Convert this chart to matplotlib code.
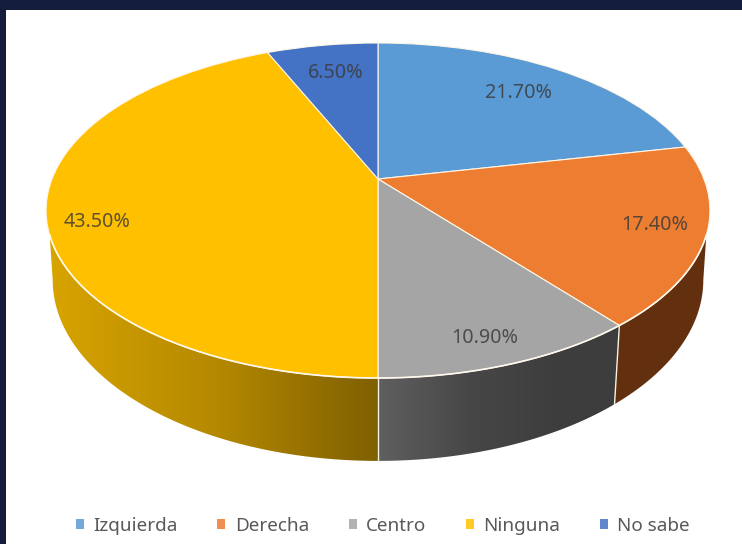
import numpy as np
import matplotlib
matplotlib.use("Agg")
import matplotlib.pyplot as plt
from matplotlib.transforms import Transform
from matplotlib.colors import LinearSegmentedColormap
from matplotlib.patches import Patch, Polygon

categories = ["Izquierda", "Derecha", "Centro", "Ninguna", "No sabe"]
values = [21.7, 17.4, 10.9, 43.5, 6.5]
label_xy = [(519, 93), (655, 225), (485, 338), (97, 222), (336, 73)]
top_colors = ["#5B9BD5", "#ED7D31", "#A5A5A5", "#FFC000", "#4472C4"]

plt.rcParams["font.family"] = ["Noto Sans", "DejaVu Sans"]


class Perspective(Transform):
    """Tilted-disc projection: unit circle -> pixels."""
    input_dims = 2
    output_dims = 2
    is_separable = False
    has_inverse = False

    def __init__(self, x0, y0, a, b, k):
        super().__init__()
        self.p = (x0, y0, a, b, k)

    def transform_non_affine(self, values):
        x0, y0, a, b, k = self.p
        values = np.asarray(values, dtype=float)
        u, v = values[:, 0], values[:, 1]
        d = 1 + k * v
        return np.column_stack((x0 + a * u / d, y0 - b * v / d))


K = 0.188
top_tf = Perspective(378, 179, 326, 161.6, K)
bot_tf = Perspective(378, 246, 319.5, 174.5, K)
RIM_TOP = 19.0                        # where the wall leaves the top rim
RIM_BOT = np.degrees(np.arcsin(K))    # widest point of the bottom rim

fig = plt.figure(figsize=(7.42, 5.44), dpi=100, facecolor="#141E3C")
ax = fig.add_axes([6 / 742, 0, 736 / 742, 534 / 544], facecolor="white")

wedges, _ = ax.pie(values, startangle=90, counterclock=False,
                   colors=top_colors,
                   wedgeprops={"edgecolor": "#FFF6E6", "linewidth": 0.8})
for w in wedges:
    w.set_transform(top_tf + ax.transData)
    w.set_zorder(3)

# side wall
wall_maps = {
    1: LinearSegmentedColormap.from_list("o", ["#63300F", "#63300F"]),
    2: LinearSegmentedColormap.from_list("g", ["#5F5F60", "#474747", "#3D3D3D"]),
    3: LinearSegmentedColormap.from_list("y", ["#D8A400", "#B58900", "#7F6000"]),
}
wall_range = {1: (613, 707), 2: (378, 560), 3: (48, 378)}
edges = 90 - 360 * np.cumsum([0] + values) / sum(values)


def ring(tf, th):
    r = np.radians(th)
    return tf.transform_non_affine(np.column_stack((np.cos(r), np.sin(r))))


for i, cmap in wall_maps.items():
    th_t = np.linspace(min(edges[i], -RIM_TOP), max(edges[i + 1], -180 + RIM_TOP), 120)
    th_b = np.linspace(min(edges[i], -RIM_BOT), max(edges[i + 1], -180 + RIM_BOT), 120)
    t, b = ring(top_tf, th_t), ring(bot_tf, th_b)
    x1, x2 = wall_range[i]
    X1, X2 = min(t[:, 0].min(), b[:, 0].min()), max(t[:, 0].max(), b[:, 0].max())
    g = np.clip((np.linspace(X1, X2, 512) - x1) / (x2 - x1), 0, 1)[None, :]
    im = ax.imshow(g, cmap=cmap, vmin=0, vmax=1, aspect="auto",
                   extent=(X1, X2, b[:, 1].max() + 2, t[:, 1].min() - 2), zorder=1)
    clip = Polygon(np.vstack((t, b[::-1])), closed=True, transform=ax.transData)
    im.set_clip_path(clip)

# pale seams between wall segments and along the front rim
for th in edges[[2, 3]]:
    p, q = ring(top_tf, [th])[0], ring(bot_tf, [th])[0]
    ax.plot([p[0], q[0]], [p[1], q[1]], color="#F4F0E4", lw=1.0, zorder=2)
rim = ring(top_tf, np.linspace(-RIM_TOP, -180 + RIM_TOP, 300))
ax.plot(rim[:, 0], rim[:, 1], color="#FFF8EC", lw=1.2, zorder=4)

for val, (x, y) in zip(values, label_xy):
    ax.text(x, y, f"{val:.2f}%", ha="center", va="center", fontsize=14.2,
            color="#3A3A3A", alpha=0.82, zorder=5)

handles = [Patch(facecolor=c, edgecolor="none", alpha=0.85) for c in top_colors]
ax.legend(handles, categories, ncol=5, loc="center",
          bbox_to_anchor=(383, 526), bbox_transform=ax.transData,
          frameon=False, fontsize=13.6, labelcolor="#595959",
          handlelength=0.42, handleheight=0.42, handletextpad=0.5,
          columnspacing=2.1)

ax.set_aspect("auto")
ax.set_xlim(6, 742)
ax.set_ylim(544, 10)
ax.set_frame_on(True)
ax.set_facecolor("white")
for s in ax.spines.values():
    s.set_visible(False)
ax.set_xticks([])
ax.set_yticks([])

fig.savefig("out.png", dpi=100, facecolor=fig.get_facecolor())
